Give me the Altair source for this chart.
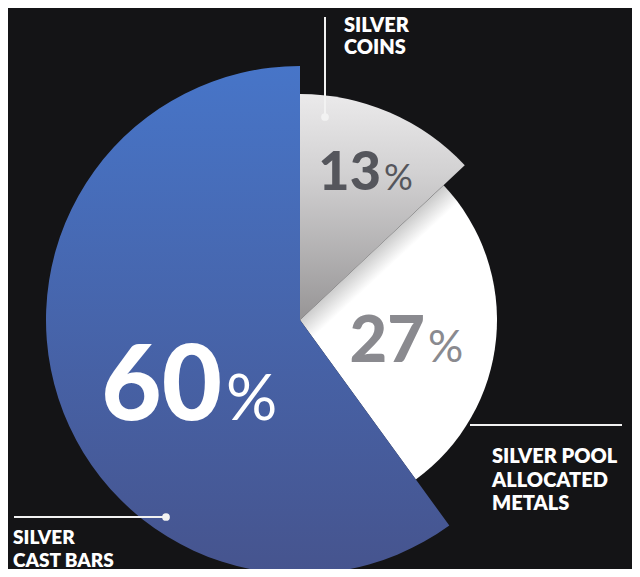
import altair as alt
import pandas as pd

# ---- data ----
categories = ["SILVER COINS", "SILVER POOL ALLOCATED METALS", "SILVER CAST BARS"]
shares = [13, 27, 60]
order = [1, 2, 3]
label_coins = ["SILVER", "COINS"]
label_pool = ["SILVER POOL", "ALLOCATED", "METALS"]
label_bars = ["SILVER", "CAST BARS"]

df = pd.DataFrame({"cat": categories, "share": shares, "ord": order})
dummy = pd.DataFrame({"k": [0]})

BG = "#141416"
CX, CY = 292, 312
FONT = "Lato"

base = (
    alt.Chart(df)
    .transform_joinaggregate(total="sum(share)")
    .transform_window(cum="sum(share)", sort=[alt.SortField("ord")])
    .transform_calculate(
        t0="2*PI*(datum.cum - datum.share)/datum.total",
        t1="2*PI*datum.cum/datum.total",
    )
)

grad_grey = alt.Gradient(
    gradient="linear",
    stops=[alt.GradientStop(color="#ebeaeb", offset=0),
           alt.GradientStop(color="#d2d1d2", offset=0.35),
           alt.GradientStop(color="#979596", offset=1)],
    x1=0, x2=0, y1=0, y2=1,
)
grad_white = alt.Gradient(
    gradient="linear",
    stops=[alt.GradientStop(color="#cbcbcb", offset=0),
           alt.GradientStop(color="#ffffff", offset=1)],
    x1=0.365, y1=0.229, x2=0.411, y2=0.303,
)
grad_blue = alt.Gradient(
    gradient="linear",
    stops=[alt.GradientStop(color="#4775c8", offset=0),
           alt.GradientStop(color="#46548e", offset=1)],
    x1=0, x2=0, y1=0, y2=1,
)


def slice_layer(cat, radius, fill):
    return base.transform_filter(alt.datum.cat == cat).mark_arc(
        outerRadius=radius, fill=fill, stroke=None
    ).encode(
        theta=alt.Theta("t0:Q", scale=None),
        theta2="t1:Q",
        x=alt.value(CX),
        y=alt.value(CY),
    )


arcs = [
    slice_layer(categories[0], 226, grad_grey),
    slice_layer(categories[1], 197, grad_white),
    slice_layer(categories[2], 254, grad_blue),
]


def pct_layer(cat, x, y, size, pct_size, pct_dx, color):
    num = base.transform_filter(alt.datum.cat == cat).mark_text(
        font=FONT, fontWeight=900, fontSize=size, color=color,
        align="right", baseline="alphabetic",
    ).encode(text=alt.Text("share:Q"), x=alt.value(x), y=alt.value(y))
    pct = base.transform_filter(alt.datum.cat == cat).mark_text(
        font=FONT, fontWeight=400, fontSize=pct_size, color=color,
        align="left", baseline="alphabetic",
    ).encode(text=alt.value("%"), x=alt.value(x + pct_dx), y=alt.value(y))
    return [num, pct]


pcts = (
    pct_layer(categories[0], 373, 182, 54, 36, 3, "#55565c")
    + pct_layer(categories[1], 417, 354, 65, 44, 3, "#8a8a8f")
    + pct_layer(categories[2], 214, 412, 104, 64, 4, "#ffffff")
)


def label_layer(lines, x, y, lh, size=20):
    return alt.Chart(dummy).mark_text(
        font=FONT, fontWeight=800, fontSize=size, color="#ffffff",
        align="left", baseline="alphabetic", lineHeight=lh,
    ).encode(text=alt.value(lines), x=alt.value(x), y=alt.value(y))


labels = [
    label_layer(label_coins, 336, 24, 22),
    label_layer(label_pool, 484, 455, 23.5),
    label_layer(label_bars, 5, 536, 22.5, 19),
]

LINE = "#f2f2f2"
rules = [
    alt.Chart(dummy).mark_rule(color=LINE, strokeWidth=2).encode(
        x=alt.value(317), y=alt.value(9), y2=alt.value(109)),
    alt.Chart(dummy).mark_rule(color=LINE, strokeWidth=2).encode(
        x=alt.value(462), x2=alt.value(614), y=alt.value(417)),
    alt.Chart(dummy).mark_rule(color=LINE, strokeWidth=2).encode(
        x=alt.value(6), x2=alt.value(158), y=alt.value(509)),
    alt.Chart(dummy).mark_circle(color=LINE, opacity=1, size=60).encode(
        x=alt.value(317), y=alt.value(109)),
    alt.Chart(dummy).mark_circle(color=LINE, opacity=1, size=60).encode(
        x=alt.value(158), y=alt.value(509)),
]

chart = alt.layer(*arcs, *pcts, *rules, *labels).properties(
    width=624, height=561, padding=0, background=BG,
    autosize=alt.AutoSizeParams(type="none"),
).configure_view(stroke=None)

chart.save("out.html", embed_options={"renderer": "svg", "actions": False})
